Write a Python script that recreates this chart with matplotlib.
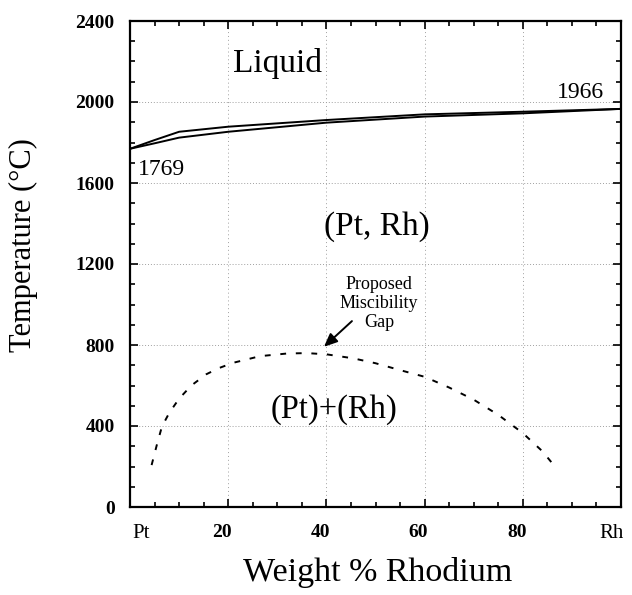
import matplotlib
matplotlib.use("Agg")
import matplotlib.pyplot as plt
from matplotlib.transforms import ScaledTranslation
from matplotlib.ticker import MultipleLocator

# ---- data ----
comp = [0, 5, 10, 20, 40, 60, 80, 100]                      # wt% Rh
liquidus = [1769, 1812, 1853, 1878, 1911, 1939, 1952, 1966]
solidus = [1769, 1796, 1824, 1853, 1898, 1928, 1944, 1966]

gap_x = [4.4, 5.5, 6.5, 8, 10, 12.5, 15.5, 18, 21, 26.5, 32, 36, 40, 45.5, 50, 55, 60, 65, 70, 75, 80, 84, 86.3]
gap_t = [207, 310, 397, 465, 535, 600, 655, 685, 712, 745, 758, 760, 754, 734, 710, 676, 643, 590, 530, 455, 365, 275, 207]

xtick_vals = [0, 20, 40, 60, 80, 100]
xtick_labels = ["Pt", "20", "40", "60", "80", "Rh"]
ytick_vals = [0, 400, 800, 1200, 1600, 2000, 2400]

SERIF = "Liberation Serif"

fig = plt.figure(figsize=(6.32, 5.95), dpi=100)
ax = fig.add_axes([130 / 632, 88 / 595, 491 / 632, 486 / 595])

ax.set_xlim(0, 100)
ax.set_ylim(0, 2400)

# grid
for gx in [20, 40, 60, 80]:
    ax.axvline(gx, color="#a0a0a0", lw=0.7, ls=(0, (1, 3)), zorder=0)
for gy in [400, 800, 1200, 1600, 2000]:
    ax.axhline(gy, color="#a0a0a0", lw=0.7, ls=(0, (1, 2)), zorder=0)

# liquidus / solidus
ax.plot(comp, liquidus, color="black", lw=1.4)
ax.plot(comp, solidus, color="black", lw=1.4)

# miscibility gap
ax.plot(gap_x, gap_t, color="black", lw=1.4, dashes=(3.0, 5.0))

# annotations
ax.text(30, 2150, "Liquid", fontsize=24, family=SERIF, ha="center", va="baseline")
ax.text(91.8, 2018, "1966", fontsize=17, family=SERIF, ha="center", va="baseline")
ax.text(6.5, 1640, "1769", fontsize=17, family=SERIF, ha="center", va="baseline")
ax.text(50.2, 1343, "(Pt, Rh)", fontsize=24, family=SERIF, ha="center", va="baseline")
ax.text(41.5, 440, "(Pt)+(Rh)", fontsize=23.5, family=SERIF, ha="center", va="baseline")
ax.text(50.7, 1006, "Proposed\nMiscibility\nGap", fontsize=13, family=SERIF,
        ha="center", va="center", linespacing=1.15)
ax.annotate("", xy=(39.5, 791), xytext=(45.2, 918),
            arrowprops=dict(arrowstyle="-|>,head_length=0.8,head_width=0.35",
                            color="black", lw=1.4, shrinkA=0, shrinkB=0))

# ticks
ax.set_xticks(xtick_vals)
ax.set_xticklabels(xtick_labels)
ax.set_yticks(ytick_vals)
ax.xaxis.set_minor_locator(MultipleLocator(5))
ax.yaxis.set_minor_locator(MultipleLocator(100))
ax.tick_params(which="both", direction="in", top=True, right=True, width=1.2)
ax.tick_params(which="major", length=6)
ax.tick_params(which="minor", length=3.5)
ax.tick_params(axis="y", pad=11)
ax.tick_params(axis="x", pad=12)

for lab in ax.get_yticklabels():
    lab.set_fontfamily(SERIF)
    lab.set_fontweight("bold")
    lab.set_fontsize(14)

offsets = [11, -6, -6, -6, -6, -9]
for lab, off in zip(ax.get_xticklabels(), offsets):
    lab.set_fontfamily(SERIF)
    if lab.get_text() in ("Pt", "Rh"):
        lab.set_fontsize(15)
    else:
        lab.set_fontweight("bold")
        lab.set_fontsize(14)
    lab.set_transform(lab.get_transform() + ScaledTranslation(off / 100, 0, fig.dpi_scale_trans))

for s in ax.spines.values():
    s.set_linewidth(1.6)
    s.set_color("black")

ax.set_xlabel("Weight % Rhodium", fontsize=24.5, family=SERIF)
ax.set_ylabel("Temperature (°C)", fontsize=22, family=SERIF)
ax.xaxis.set_label_coords(0.505, -0.103)
ax.yaxis.set_label_coords(-0.187, 0.539)

fig.savefig("out.png", dpi=100)
